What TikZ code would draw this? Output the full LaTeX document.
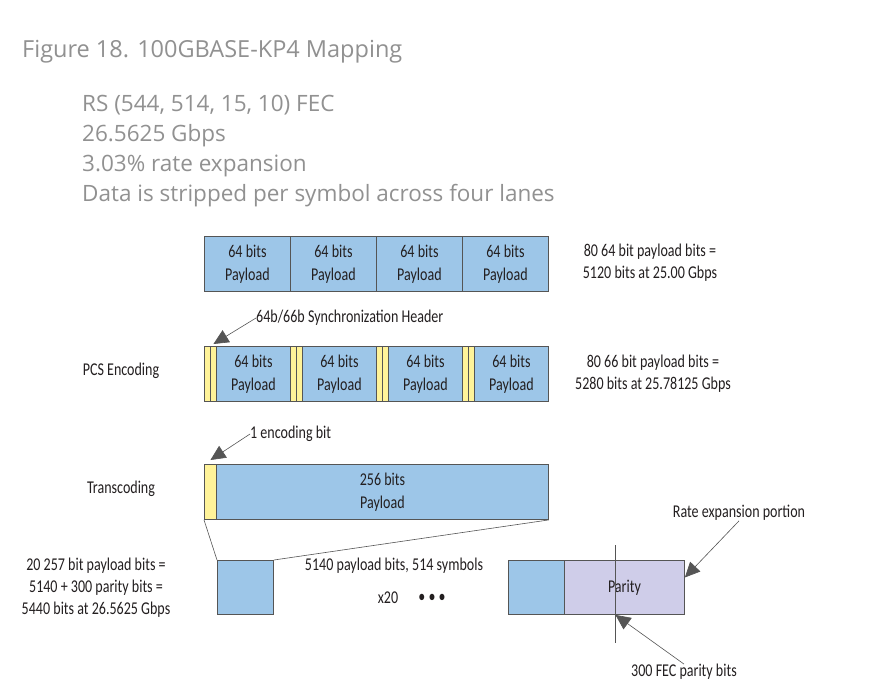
\documentclass[tikz,border=0pt]{standalone}
\usepackage{fontspec}
\setmainfont{Carlito}[FakeStretch=0.78]
\newfontfamily\capfont{Open Sans}
\usetikzlibrary{positioning,arrows.meta}
\definecolor{paybl}{RGB}{157,198,232}
\definecolor{syncyl}{RGB}{255,243,153}
\definecolor{parlv}{RGB}{207,205,233}
\definecolor{edge}{RGB}{85,85,85}
\definecolor{capgray}{RGB}{145,145,145}
\definecolor{ink}{RGB}{35,31,32}
\tikzset{
  cell/.style={draw=edge, fill=paybl, line width=0.9pt, inner sep=0pt,
    minimum height=55, anchor=north west, align=center,
    font=\fontsize{18}{23}\selectfont, text=ink},
  synccell/.style={cell, fill=syncyl, minimum width=6},
  lbl/.style={font=\fontsize{18}{22}\selectfont, text=ink, align=center, inner sep=0pt},
  captext/.style={font=\capfont\fontsize{22.5}{24}\selectfont, text=capgray, anchor=base west, inner sep=0pt},
  pointer/.style={draw=edge, line width=0.6pt, -{Triangle[length=15,width=14]}}
}
\begin{document}
\begin{tikzpicture}[x=1pt, y=-1pt]
  \useasboundingbox[fill=white] (0,0) rectangle (880,693);
  % 見出し
  \node[captext, font=\capfont\fontsize{23.5}{26}\selectfont] (fig) at (22,57) {Figure 18. 100GBASE-KP4 Mapping};
  \foreach \t [count=\k] in {{RS (544, 514, 15, 10) FEC}, {26.5625 Gbps}, {3.03\% rate expansion},
      {Data is stripped per symbol across four lanes}}
    \node[captext] (note\k) at (82,{81+30*\k}) {\t};
  % 64ビットのペイロード
  \foreach \i in {0,...,3}
    \node[cell, minimum width=86] (top\i) at ({204+86*\i},236) {64 bits\\Payload};
  \node[lbl] (toprate) at (650,263) {80 64 bit payload bits =\\5120 bits at 25.00 Gbps};
  % PCS符号化: 同期ヘッダ + ペイロード
  \foreach \i in {0,...,3} {
    \node[synccell] (sync\i a) at ({204+86*\i},346) {};
    \node[synccell] (sync\i b) at ({210+86*\i},346) {};
    \node[cell, minimum width=74] (pcs\i) at ({216+86*\i},346) {64 bits\\Payload};
  }
  \node[lbl] (pcslbl) at (121,371) {PCS Encoding};
  \node[lbl] (pcsrate) at (653,374) {80 66 bit payload bits =\\5280 bits at 25.78125 Gbps};
  \node[lbl, anchor=west] (synclbl) at (256,318) {64b/66b Synchronization Header};
  \draw[pointer] (synclbl.west) -- ([yshift=2pt]sync0b.north);
  % トランスコード
  \node[synccell, minimum width=12] (enc) at (204,464) {};
  \node[cell, minimum width=332] (tc) at (216,464) {256 bits\\Payload};
  \node[lbl] (tclbl) at (121,489) {Transcoding};
  \node[lbl, anchor=west] (enclbl) at (250,434) {1 encoding bit};
  \draw[pointer] (enclbl.west) -- ([yshift=4pt]enc.north);
  % RSシンボル
  \node[cell, minimum width=56, minimum height=54] (sym) at (217,560) {};
  \draw[edge, line width=0.6pt] (enc.south west) -- (sym.north west);
  \draw[edge, line width=0.6pt] (tc.south east) -- (sym.north east);
  \node[lbl] (fecrate) at (96,588) {20 257 bit payload bits =\\5140 + 300 parity bits =\\5440 bits at 26.5625 Gbps};
  \node[lbl] (symlbl) at (394,566) {5140 payload bits, 514 symbols};
  \node[lbl] (rep) at (388,598) {x20};
  \node[lbl] (dots) at (432,598) {\textbullet\ \textbullet\ \textbullet};
  % FECブロック
  \node[cell, minimum width=56, minimum height=54] (fecpay) at (508,560) {};
  \node[cell, fill=parlv, minimum width=120, minimum height=54] (parity) at (564,560) {Parity};
  \coordinate (cuttop) at (615,545);
  \coordinate (cutbot) at (615,643);
  \draw[edge, line width=0.6pt] (cuttop) -- (cutbot);
  \node[lbl] (ratelbl) at (739,513) {Rate expansion portion};
  \draw[pointer] (ratelbl.south) -- ([yshift=10pt]parity.east);
  \node[lbl] (parlbl) at (684,672) {300 FEC parity bits};
  \draw[pointer] (parlbl.north) -- ([xshift=-9pt]parity.south);
\end{tikzpicture}
\end{document}
